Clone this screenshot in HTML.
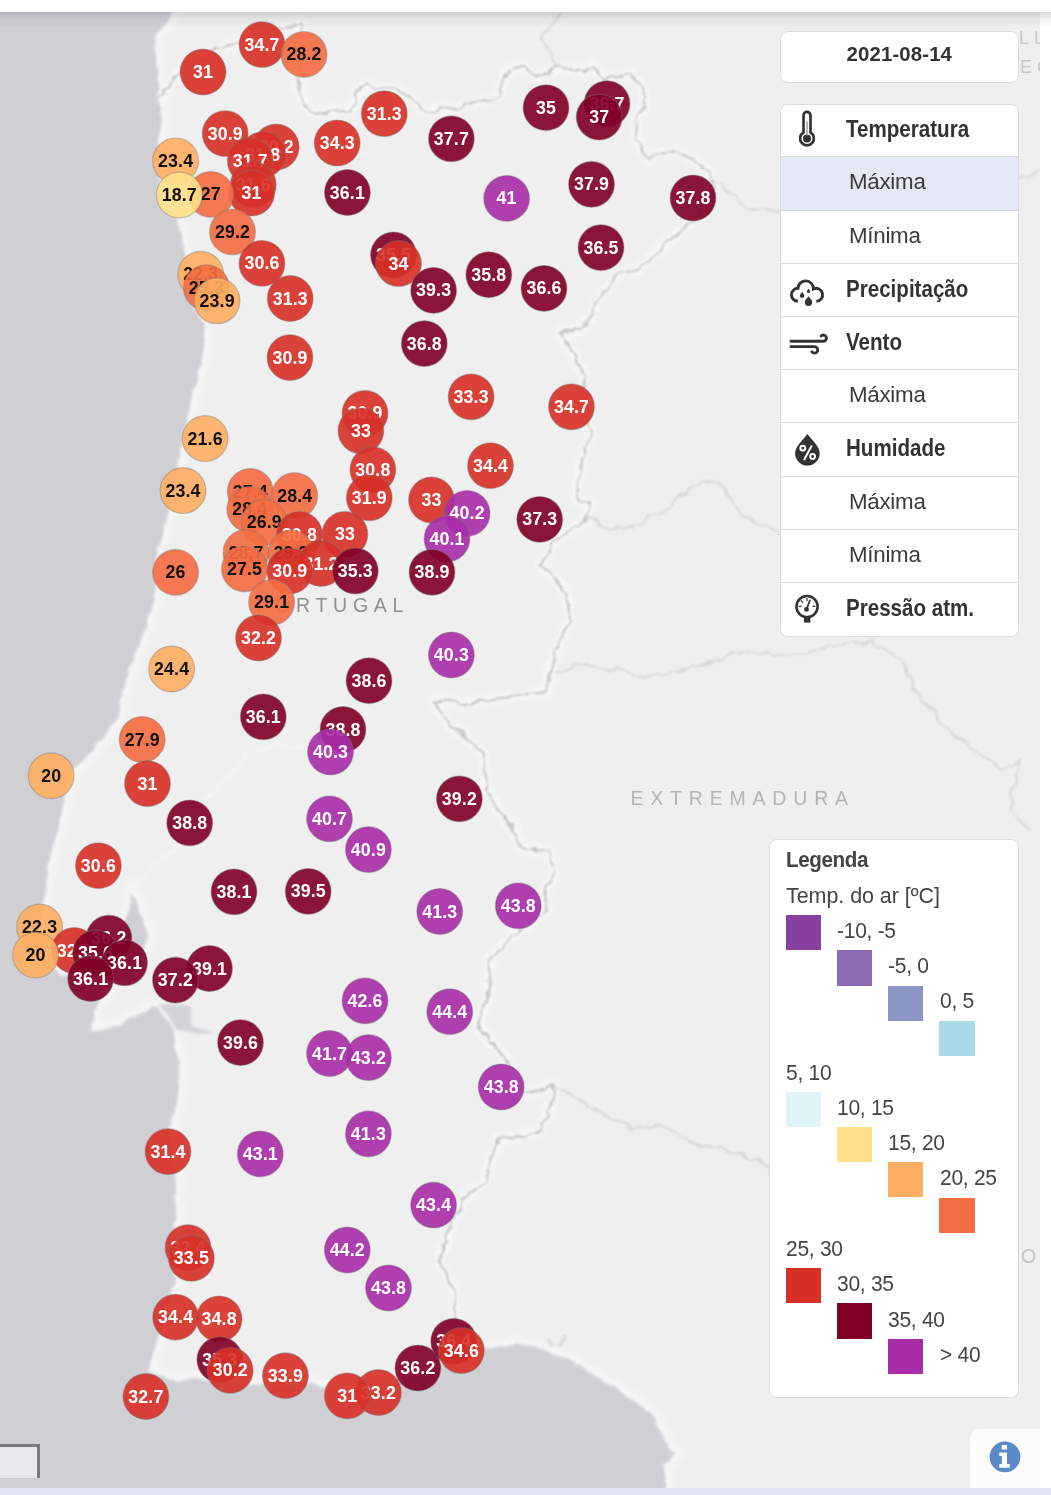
<!DOCTYPE html>
<html lang="pt"><head><meta charset="utf-8"><title>Mapa</title>
<style>
html,body{margin:0;padding:0;background:#fff;}
body{width:1051px;height:1495px;position:relative;overflow:hidden;font-family:"Liberation Sans",sans-serif;color:#333;}
#map{position:absolute;left:0;top:12px;width:1040px;height:1476px;background:#efefef;overflow:hidden;}
#map svg{position:absolute;left:0;top:-12px;}
#map svg text{font-family:"Liberation Sans",sans-serif;}
.pts text{font-weight:bold;font-size:17.8px;text-anchor:middle;letter-spacing:.12px}
#topshadow{position:absolute;left:0;top:12px;width:1051px;height:16px;background:linear-gradient(rgba(40,40,50,.17),rgba(40,40,50,.06) 45%,rgba(40,40,50,0));}
#bottombar{position:absolute;left:0;top:1488.4px;width:1051px;height:7px;background:#e2e6f4;}
.box{position:absolute;background:#fff;border:1px solid #dcdcdc;border-radius:8px;box-sizing:border-box;}
#date{left:780px;top:30.5px;width:238.7px;height:52px;font-weight:bold;font-size:20.4px;letter-spacing:.12px;text-align:center;line-height:45.6px;}
#menu{left:780px;top:103.5px;width:238.7px;height:533px;overflow:hidden;}
.row{position:absolute;left:0;width:100%;height:53.2px;border-top:1.3px solid #dcdcdc;box-sizing:border-box;line-height:50px;white-space:nowrap;}
.row b{position:absolute;left:65.2px;font-size:23.6px;transform-origin:0 50%;transform:scaleX(.872)}
.row span{position:absolute;left:68px;font-size:22.3px;letter-spacing:-.25px;color:#3a3a3a}
.row svg{position:absolute;left:0;top:0;}
.sel{background:#e5e8f5;}
#legend{left:768.5px;top:839px;width:250px;height:559px;}
#legend div{position:absolute;white-space:nowrap;font-size:22.6px;color:#444;line-height:24px;letter-spacing:-.3px;transform-origin:0 50%;transform:scaleX(.93)}
#legend i{position:absolute;width:35.5px;height:35.3px;}
#scale{position:absolute;left:-3px;top:1444px;width:37px;height:34px;border:3px solid #7b7b7b;background:#e8e8ea;box-sizing:content-box;border-bottom:none;height:31px}
#info{position:absolute;left:969.5px;top:1428.5px;width:70.5px;height:59.5px;background:#fcfcfc;border-top-left-radius:9px;}
</style></head><body>
<div id="map">
<svg width="1040" height="1495" viewBox="0 0 1040 1495">
<defs><filter id="b1" x="-5%" y="-5%" width="110%" height="110%"><feGaussianBlur stdDeviation="1.6"/></filter>
<filter id="b5" x="-5%" y="-5%" width="110%" height="110%"><feGaussianBlur stdDeviation="3.5"/></filter>
<filter id="bh" x="-5%" y="-5%" width="110%" height="110%"><feTurbulence type="fractalNoise" baseFrequency=".07" numOctaves="3" seed="3" result="n"/><feDisplacementMap in="SourceGraphic" in2="n" scale="10" xChannelSelector="R" yChannelSelector="G"/><feGaussianBlur stdDeviation="2.5"/></filter>
<filter id="bsea" x="-5%" y="-5%" width="110%" height="110%"><feTurbulence type="fractalNoise" baseFrequency=".09" numOctaves="3" seed="7" result="n"/><feDisplacementMap in="SourceGraphic" in2="n" scale="6" xChannelSelector="R" yChannelSelector="G"/><feGaussianBlur stdDeviation="1.7"/></filter>
<filter id="b07" x="-5%" y="-5%" width="110%" height="110%"><feTurbulence type="fractalNoise" baseFrequency=".07" numOctaves="3" seed="3" result="n"/><feDisplacementMap in="SourceGraphic" in2="n" scale="10" xChannelSelector="R" yChannelSelector="G"/><feGaussianBlur stdDeviation=".8"/></filter></defs>
<rect width="1040" height="1495" fill="#efefef"/>
<path d="M-30,-30 L172,-30 L170.8,12 L167.8,23 L163,28 L158.6,30.5 L154.8,38 L156,50 L156.4,61 L157.9,84 L159.4,95 L160.2,114 L159.4,137 L158.5,160 L160,185 L166,205 L177,220 L179.4,230.5 L183.2,246 L184.7,253.5 L186.5,275 L190,300 L198,315 L204.6,325 L205.3,337 L203,352.5 L200,368 L196.2,383 L192.4,398 L188.6,413.5 L186.8,420 L183.7,435 L180.7,450.5 L178.4,463 L173,490 L167,519 L162.4,534.5 L157,550 L156,575 L154.7,600 L148.6,618.3 L143.3,633.5 L140.5,640 L134.4,655.3 L129,670.5 L124.5,686 L120.7,701 L117.6,716 L111.5,725.5 L100.8,739 L88.6,754.4 L78,765 L73.4,770 L67,785 L64.2,800 L62,815.4 L58.1,830.7 L52.8,846 L49,861 L47.3,865.3 L46.5,880.5 L45,896 L42.7,903.5 L40,925 L42,945 L50,965 L62,976 L80,972 L105,962 L122,950 L124,930 L127,915 L131,900 L132.7,893.5 L135.8,900.3 L138,911 L141.9,918.6 L146.4,926.3 L148.7,935.4 L146.4,941.5 L143,952 L140,965 L128,978 L113,981 L105,992 L97.6,1002.5 L94,1016 L90.5,1031.5 L103.7,1030 L115.3,1025.5 L122,1024.5 L130.5,1019 L142.7,1012.9 L151.9,1006.8 L157,1007.5 L165,1017 L173.2,1031.2 L173.2,1034.2 L176.3,1048 L178.6,1063.2 L179.3,1081.5 L177.8,1096.8 L174.7,1112 L170.9,1124.2 L169,1150 L176.3,1180.7 L174.7,1196 L176.3,1211.2 L176.3,1215.3 L174.7,1226 L173,1250 L174.7,1283.9 L171.7,1291.5 L165,1320 L156.4,1344.9 L151.1,1360.2 L148,1372.4 L164,1377 L176.3,1381.5 L191.5,1379.2 L206.8,1378.5 L230,1384 L254.8,1384.1 L280,1386 L309.3,1382.9 L316.7,1385.4 L350,1392 L385,1386 L400,1381 L420,1373 L440,1366 L455,1358 L470,1351 L486,1348.8 L515.7,1344.3 L538.5,1346.5 L552.2,1353.4 L572.8,1362.5 L595.6,1376.2 L618.4,1390 L641.3,1405.9 L655,1419.6 L664.1,1437.9 L671,1451.6 L675.5,1453.9 L664.1,1465.3 L668.7,1530 L-30,1530Z" fill="none" stroke="#f7f7f7" stroke-width="12" filter="url(#b5)"/>
<path d="M132,893 L149.5,868 L176.7,848.4 L190,825 L206.4,799 L233.6,771.7 L251,749.5 L278,745.8 L307.8,748.2 L345,742" fill="none" stroke="#f4f4f4" stroke-width="2" filter="url(#b07)"/>
<g fill="none" stroke="#f8f8f8" stroke-width="9" stroke-linejoin="round" filter="url(#bh)"><path d="M159,97 L177,77 L214,50 L234,43.5 L262,36 L294.5,25 L303,23.4 L301,50 L298,77 L301,93.7 L314.5,113.7 L350,110.4 L363.4,85.3 L403.5,92 L427,112 L460.4,107 L497,97 L507,70 L524,67 L537,77 L557.4,67 L584,72 L591,67 L607,80 L619,78 L632.4,73.3 L640,81.8 L644.7,99 L638,118 L636.2,133.2 L641,150.3 L649.5,158 L657,152.2 L676,152.2 L691.3,158 L706.6,171.3 L714.2,178.9 L712,200 L700,214 L689.4,222.6 L680,232 L662.8,245.5 L647.6,262.6 L634.4,270.7 L616,273.7 L605.4,290.4 L594.8,302.6 L593.3,313.3 L582.6,328.5 L559.8,331.5 L561.3,337.6 L576.5,357.4 L578,366.5 L585.7,375.7 L584.1,383.3 L588,405 L591,435 L580.8,461.7 L577.5,500 L591,505 L584,520 L550.7,543.5 L542.4,567 L567.5,593.7 L569,620.4 L554,657 L545.7,690.7 L477,702.4 L433.6,700.7 L447,720.8 L483.8,754 L483.8,777.7 L497.2,807.8 L517.3,834.6 L520.6,848 L547.4,851.3 L554,868 L544,894.8 L547.4,911.5 L510.6,935 L490.5,958.4 L487,1000 L477,1025 L500.6,1052 L524,1092 L554,1085.3 L550.7,1105.4 L540.7,1128.8 L497.2,1142.2 L483.8,1182.4 L460.4,1202.4 L447,1235.9 L440.3,1259.3 L453.7,1289.4 L455.4,1319.5 L456,1345"/></g>
<g fill="none" stroke="#d6d6d6" stroke-width="2" stroke-linejoin="round" filter="url(#b07)">
<path d="M560.8,13.4 L548,30 L542.4,40 L554,60 L557.4,67"/>
<path d="M554,1085.3 L584,1102 L631,1128.8 L661,1125.5 L700,1145.5 L760,1160 L790,1190"/>
<path d="M588,515 L605,530 L634,527 L650,518 L671,505 L690,490 L706,480 L718,484 L726,492 L741,515 L776,530 L800,545"/>
<path d="M554,674 L584,664 L651,677 L700,667 L740,650 L790,655 L870,640 L900,660 L920,700 L960,740 L1000,770 L1020,760 L1010,810 L1030,830"/>
<path d="M714.2,178.9 L733,198 L752,209.3 L775,211 L790,210 L1000,185 L1020,177 L1040,170"/>
</g>
<g fill="none" stroke="#c2c2c2" stroke-width="2" stroke-linejoin="round" filter="url(#b07)"><path d="M159,97 L177,77 L214,50 L234,43.5 L262,36 L294.5,25 L303,23.4 L301,50 L298,77 L301,93.7 L314.5,113.7 L350,110.4 L363.4,85.3 L403.5,92 L427,112 L460.4,107 L497,97 L507,70 L524,67 L537,77 L557.4,67 L584,72 L591,67 L607,80 L619,78 L632.4,73.3 L640,81.8 L644.7,99 L638,118 L636.2,133.2 L641,150.3 L649.5,158 L657,152.2 L676,152.2 L691.3,158 L706.6,171.3 L714.2,178.9 L712,200 L700,214 L689.4,222.6 L680,232 L662.8,245.5 L647.6,262.6 L634.4,270.7 L616,273.7 L605.4,290.4 L594.8,302.6 L593.3,313.3 L582.6,328.5 L559.8,331.5 L561.3,337.6 L576.5,357.4 L578,366.5 L585.7,375.7 L584.1,383.3 L588,405 L591,435 L580.8,461.7 L577.5,500 L591,505 L584,520 L550.7,543.5 L542.4,567 L567.5,593.7 L569,620.4 L554,657 L545.7,690.7 L477,702.4 L433.6,700.7 L447,720.8 L483.8,754 L483.8,777.7 L497.2,807.8 L517.3,834.6 L520.6,848 L547.4,851.3 L554,868 L544,894.8 L547.4,911.5 L510.6,935 L490.5,958.4 L487,1000 L477,1025 L500.6,1052 L524,1092 L554,1085.3 L550.7,1105.4 L540.7,1128.8 L497.2,1142.2 L483.8,1182.4 L460.4,1202.4 L447,1235.9 L440.3,1259.3 L453.7,1289.4 L455.4,1319.5 L456,1345"/></g>
<path d="M-30,-30 L172,-30 L170.8,12 L167.8,23 L163,28 L158.6,30.5 L154.8,38 L156,50 L156.4,61 L157.9,84 L159.4,95 L160.2,114 L159.4,137 L158.5,160 L160,185 L166,205 L177,220 L179.4,230.5 L183.2,246 L184.7,253.5 L186.5,275 L190,300 L198,315 L204.6,325 L205.3,337 L203,352.5 L200,368 L196.2,383 L192.4,398 L188.6,413.5 L186.8,420 L183.7,435 L180.7,450.5 L178.4,463 L173,490 L167,519 L162.4,534.5 L157,550 L156,575 L154.7,600 L148.6,618.3 L143.3,633.5 L140.5,640 L134.4,655.3 L129,670.5 L124.5,686 L120.7,701 L117.6,716 L111.5,725.5 L100.8,739 L88.6,754.4 L78,765 L73.4,770 L67,785 L64.2,800 L62,815.4 L58.1,830.7 L52.8,846 L49,861 L47.3,865.3 L46.5,880.5 L45,896 L42.7,903.5 L40,925 L42,945 L50,965 L62,976 L80,972 L105,962 L122,950 L124,930 L127,915 L131,900 L132.7,893.5 L135.8,900.3 L138,911 L141.9,918.6 L146.4,926.3 L148.7,935.4 L146.4,941.5 L143,952 L140,965 L128,978 L113,981 L105,992 L97.6,1002.5 L94,1016 L90.5,1031.5 L103.7,1030 L115.3,1025.5 L122,1024.5 L130.5,1019 L142.7,1012.9 L151.9,1006.8 L157,1007.5 L165,1017 L173.2,1031.2 L173.2,1034.2 L176.3,1048 L178.6,1063.2 L179.3,1081.5 L177.8,1096.8 L174.7,1112 L170.9,1124.2 L169,1150 L176.3,1180.7 L174.7,1196 L176.3,1211.2 L176.3,1215.3 L174.7,1226 L173,1250 L174.7,1283.9 L171.7,1291.5 L165,1320 L156.4,1344.9 L151.1,1360.2 L148,1372.4 L164,1377 L176.3,1381.5 L191.5,1379.2 L206.8,1378.5 L230,1384 L254.8,1384.1 L280,1386 L309.3,1382.9 L316.7,1385.4 L350,1392 L385,1386 L400,1381 L420,1373 L440,1366 L455,1358 L470,1351 L486,1348.8 L515.7,1344.3 L538.5,1346.5 L552.2,1353.4 L572.8,1362.5 L595.6,1376.2 L618.4,1390 L641.3,1405.9 L655,1419.6 L664.1,1437.9 L671,1451.6 L675.5,1453.9 L664.1,1465.3 L668.7,1530 L-30,1530Z" fill="#cfcfd4" filter="url(#bsea)"/>
<path d="M158.5,1004.5 L185.4,1004.8 L190.8,1007 L191,1025 L199,1028.5 L216,1033.5 L199,1033.5 L185,1031 L177,1030 L168,1016 L160.5,1008Z" fill="#d3d4d9" filter="url(#b1)"/>
<path d="M548,1340 l5,6 M566,1335 l-7,12" stroke="#d4d5da" stroke-width="3" fill="none" filter="url(#b1)"/>
<text x="256.5" y="611.5" font-size="19.5" letter-spacing="5.7" fill="#909090">PORTUGAL</text>
<text x="630.5" y="804.5" font-size="19.5" letter-spacing="6.8" fill="#b4b4b4">EXTREMADURA</text>
<text x="1019" y="43.5" font-size="18" letter-spacing="5" fill="#c8c8c8">LL</text>
<text x="1020" y="72.5" font-size="18" letter-spacing="5" fill="#c8c8c8">EC</text>
<text x="1021" y="1263" font-size="19.5" letter-spacing="6" fill="#c4c4c4">OA</text>
<g class="pts">
<circle cx="262" cy="44.6" r="22.9" fill="#d73027" fill-opacity=".915" stroke="#777" stroke-opacity=".4" stroke-width="1.2"/><text x="262" y="50.65" fill="#fff">34.7</text>
<circle cx="304" cy="54.4" r="22.9" fill="#f46d43" fill-opacity=".915" stroke="#777" stroke-opacity=".4" stroke-width="1.2"/><text x="304" y="60.449999999999996" fill="#111">28.2</text>
<circle cx="203" cy="72" r="22.9" fill="#d73027" fill-opacity=".915" stroke="#777" stroke-opacity=".4" stroke-width="1.2"/><text x="203" y="78.05" fill="#fff">31</text>
<circle cx="384.3" cy="113.7" r="22.9" fill="#d73027" fill-opacity=".915" stroke="#777" stroke-opacity=".4" stroke-width="1.2"/><text x="384.3" y="119.75" fill="#fff">31.3</text>
<circle cx="225.2" cy="133.6" r="22.9" fill="#d73027" fill-opacity=".915" stroke="#777" stroke-opacity=".4" stroke-width="1.2"/><text x="225.2" y="139.65" fill="#fff">30.9</text>
<circle cx="337.2" cy="143" r="22.9" fill="#d73027" fill-opacity=".915" stroke="#777" stroke-opacity=".4" stroke-width="1.2"/><text x="337.2" y="149.05" fill="#fff">34.3</text>
<circle cx="276.2" cy="147" r="22.9" fill="#d73027" fill-opacity=".915" stroke="#777" stroke-opacity=".4" stroke-width="1.2"/><text x="276.2" y="153.05" fill="#fff">30.2</text>
<circle cx="262.8" cy="154.6" r="22.9" fill="#d73027" fill-opacity=".915" stroke="#777" stroke-opacity=".4" stroke-width="1.2"/><text x="262.8" y="160.65" fill="#fff">31.8</text>
<circle cx="250.3" cy="160.9" r="22.9" fill="#d73027" fill-opacity=".915" stroke="#777" stroke-opacity=".4" stroke-width="1.2"/><text x="250.3" y="166.95000000000002" fill="#fff">31.7</text>
<circle cx="253.3" cy="184.7" r="22.9" fill="#d73027" fill-opacity=".915" stroke="#777" stroke-opacity=".4" stroke-width="1.2"/><text x="253.3" y="190.75" fill="#fff">31.6</text>
<circle cx="251.6" cy="193" r="22.9" fill="#d73027" fill-opacity=".915" stroke="#777" stroke-opacity=".4" stroke-width="1.2"/><text x="251.6" y="199.05" fill="#fff">31</text>
<circle cx="175.6" cy="160.9" r="22.9" fill="#fdae61" fill-opacity=".915" stroke="#777" stroke-opacity=".4" stroke-width="1.2"/><text x="175.6" y="166.95000000000002" fill="#111">23.4</text>
<circle cx="210.8" cy="194.4" r="22.9" fill="#f46d43" fill-opacity=".915" stroke="#777" stroke-opacity=".4" stroke-width="1.2"/><text x="210.8" y="200.45000000000002" fill="#111">27</text>
<circle cx="179.3" cy="195" r="22.9" fill="#fee08b" fill-opacity=".915" stroke="#777" stroke-opacity=".4" stroke-width="1.2"/><text x="179.3" y="201.05" fill="#111">18.7</text>
<circle cx="232.5" cy="231.9" r="22.9" fill="#f46d43" fill-opacity=".915" stroke="#777" stroke-opacity=".4" stroke-width="1.2"/><text x="232.5" y="237.95000000000002" fill="#111">29.2</text>
<circle cx="262" cy="263.4" r="22.9" fill="#d73027" fill-opacity=".915" stroke="#777" stroke-opacity=".4" stroke-width="1.2"/><text x="262" y="269.45" fill="#fff">30.6</text>
<circle cx="290.2" cy="298.5" r="22.9" fill="#d73027" fill-opacity=".915" stroke="#777" stroke-opacity=".4" stroke-width="1.2"/><text x="290.2" y="304.55" fill="#fff">31.3</text>
<circle cx="200.7" cy="274.3" r="22.9" fill="#fdae61" fill-opacity=".915" stroke="#777" stroke-opacity=".4" stroke-width="1.2"/><text x="200.7" y="280.35" fill="#111">22.3</text>
<circle cx="206.4" cy="287.7" r="22.9" fill="#f46d43" fill-opacity=".915" stroke="#777" stroke-opacity=".4" stroke-width="1.2"/><text x="206.4" y="293.75" fill="#111">25.3</text>
<circle cx="217.1" cy="300.8" r="22.9" fill="#fdae61" fill-opacity=".915" stroke="#777" stroke-opacity=".4" stroke-width="1.2"/><text x="217.1" y="306.85" fill="#111">23.9</text>
<circle cx="290" cy="357.6" r="22.9" fill="#d73027" fill-opacity=".915" stroke="#777" stroke-opacity=".4" stroke-width="1.2"/><text x="290" y="363.65000000000003" fill="#fff">30.9</text>
<circle cx="347.4" cy="192.5" r="22.9" fill="#800026" fill-opacity=".915" stroke="#777" stroke-opacity=".4" stroke-width="1.2"/><text x="347.4" y="198.55" fill="#fff">36.1</text>
<circle cx="451.4" cy="138.8" r="22.9" fill="#800026" fill-opacity=".915" stroke="#777" stroke-opacity=".4" stroke-width="1.2"/><text x="451.4" y="144.85000000000002" fill="#fff">37.7</text>
<circle cx="546" cy="107.7" r="22.9" fill="#800026" fill-opacity=".915" stroke="#777" stroke-opacity=".4" stroke-width="1.2"/><text x="546" y="113.75" fill="#fff">35</text>
<circle cx="607" cy="103.7" r="22.9" fill="#800026" fill-opacity=".915" stroke="#777" stroke-opacity=".4" stroke-width="1.2"/><text x="607" y="109.75" fill="#fff">36.7</text>
<circle cx="599.2" cy="117.1" r="22.9" fill="#800026" fill-opacity=".915" stroke="#777" stroke-opacity=".4" stroke-width="1.2"/><text x="599.2" y="123.14999999999999" fill="#fff">37</text>
<circle cx="506.6" cy="198.4" r="22.9" fill="#a92da8" fill-opacity=".915" stroke="#777" stroke-opacity=".4" stroke-width="1.2"/><text x="506.6" y="204.45000000000002" fill="#fff">41</text>
<circle cx="591.5" cy="184.3" r="22.9" fill="#800026" fill-opacity=".915" stroke="#777" stroke-opacity=".4" stroke-width="1.2"/><text x="591.5" y="190.35000000000002" fill="#fff">37.9</text>
<circle cx="693" cy="198" r="22.9" fill="#800026" fill-opacity=".915" stroke="#777" stroke-opacity=".4" stroke-width="1.2"/><text x="693" y="204.05" fill="#fff">37.8</text>
<circle cx="601" cy="247.6" r="22.9" fill="#800026" fill-opacity=".915" stroke="#777" stroke-opacity=".4" stroke-width="1.2"/><text x="601" y="253.65" fill="#fff">36.5</text>
<circle cx="393.5" cy="255" r="22.9" fill="#800026" fill-opacity=".915" stroke="#777" stroke-opacity=".4" stroke-width="1.2"/><text x="393.5" y="261.05" fill="#fff">35.5</text>
<circle cx="398.5" cy="263.6" r="22.9" fill="#d73027" fill-opacity=".915" stroke="#777" stroke-opacity=".4" stroke-width="1.2"/><text x="398.5" y="269.65000000000003" fill="#fff">34</text>
<circle cx="433.6" cy="290.4" r="22.9" fill="#800026" fill-opacity=".915" stroke="#777" stroke-opacity=".4" stroke-width="1.2"/><text x="433.6" y="296.45" fill="#fff">39.3</text>
<circle cx="488.8" cy="274.7" r="22.9" fill="#800026" fill-opacity=".915" stroke="#777" stroke-opacity=".4" stroke-width="1.2"/><text x="488.8" y="280.75" fill="#fff">35.8</text>
<circle cx="544" cy="288.4" r="22.9" fill="#800026" fill-opacity=".915" stroke="#777" stroke-opacity=".4" stroke-width="1.2"/><text x="544" y="294.45" fill="#fff">36.6</text>
<circle cx="424.3" cy="343.6" r="22.9" fill="#800026" fill-opacity=".915" stroke="#777" stroke-opacity=".4" stroke-width="1.2"/><text x="424.3" y="349.65000000000003" fill="#fff">36.8</text>
<circle cx="471.1" cy="396.8" r="22.9" fill="#d73027" fill-opacity=".915" stroke="#777" stroke-opacity=".4" stroke-width="1.2"/><text x="471.1" y="402.85" fill="#fff">33.3</text>
<circle cx="571.5" cy="406.8" r="22.9" fill="#d73027" fill-opacity=".915" stroke="#777" stroke-opacity=".4" stroke-width="1.2"/><text x="571.5" y="412.85" fill="#fff">34.7</text>
<circle cx="365" cy="413.3" r="22.9" fill="#d73027" fill-opacity=".915" stroke="#777" stroke-opacity=".4" stroke-width="1.2"/><text x="365" y="419.35" fill="#fff">30.9</text>
<circle cx="360.9" cy="430.8" r="22.9" fill="#d73027" fill-opacity=".915" stroke="#777" stroke-opacity=".4" stroke-width="1.2"/><text x="360.9" y="436.85" fill="#fff">33</text>
<circle cx="372.9" cy="469.8" r="22.9" fill="#d73027" fill-opacity=".915" stroke="#777" stroke-opacity=".4" stroke-width="1.2"/><text x="372.9" y="475.85" fill="#fff">30.8</text>
<circle cx="490.5" cy="465.7" r="22.9" fill="#d73027" fill-opacity=".915" stroke="#777" stroke-opacity=".4" stroke-width="1.2"/><text x="490.5" y="471.75" fill="#fff">34.4</text>
<circle cx="369.3" cy="497.8" r="22.9" fill="#d73027" fill-opacity=".915" stroke="#777" stroke-opacity=".4" stroke-width="1.2"/><text x="369.3" y="503.85" fill="#fff">31.9</text>
<circle cx="431.5" cy="500" r="22.9" fill="#d73027" fill-opacity=".915" stroke="#777" stroke-opacity=".4" stroke-width="1.2"/><text x="431.5" y="506.05" fill="#fff">33</text>
<circle cx="205.1" cy="438.6" r="22.9" fill="#fdae61" fill-opacity=".915" stroke="#777" stroke-opacity=".4" stroke-width="1.2"/><text x="205.1" y="444.65000000000003" fill="#111">21.6</text>
<circle cx="183" cy="490.5" r="22.9" fill="#fdae61" fill-opacity=".915" stroke="#777" stroke-opacity=".4" stroke-width="1.2"/><text x="183" y="496.55" fill="#111">23.4</text>
<circle cx="250.3" cy="491.5" r="22.9" fill="#f46d43" fill-opacity=".915" stroke="#777" stroke-opacity=".4" stroke-width="1.2"/><text x="250.3" y="497.55" fill="#111">27.4</text>
<circle cx="294.7" cy="495.6" r="22.9" fill="#f46d43" fill-opacity=".915" stroke="#777" stroke-opacity=".4" stroke-width="1.2"/><text x="294.7" y="501.65000000000003" fill="#111">28.4</text>
<circle cx="249.8" cy="509.3" r="22.9" fill="#f46d43" fill-opacity=".915" stroke="#777" stroke-opacity=".4" stroke-width="1.2"/><text x="249.8" y="515.35" fill="#111">28.4</text>
<circle cx="264.3" cy="522.3" r="22.9" fill="#f46d43" fill-opacity=".915" stroke="#777" stroke-opacity=".4" stroke-width="1.2"/><text x="264.3" y="528.3499999999999" fill="#111">26.9</text>
<circle cx="344.9" cy="534.3" r="22.9" fill="#d73027" fill-opacity=".915" stroke="#777" stroke-opacity=".4" stroke-width="1.2"/><text x="344.9" y="540.3499999999999" fill="#fff">33</text>
<circle cx="299.4" cy="534.5" r="22.9" fill="#d73027" fill-opacity=".915" stroke="#777" stroke-opacity=".4" stroke-width="1.2"/><text x="299.4" y="540.55" fill="#fff">30.8</text>
<circle cx="291" cy="553" r="22.9" fill="#f46d43" fill-opacity=".915" stroke="#777" stroke-opacity=".4" stroke-width="1.2"/><text x="291" y="559.05" fill="#111">29.3</text>
<circle cx="321" cy="563.5" r="22.9" fill="#d73027" fill-opacity=".915" stroke="#777" stroke-opacity=".4" stroke-width="1.2"/><text x="321" y="569.55" fill="#fff">31.2</text>
<circle cx="289.7" cy="571" r="22.9" fill="#d73027" fill-opacity=".915" stroke="#777" stroke-opacity=".4" stroke-width="1.2"/><text x="289.7" y="577.05" fill="#fff">30.9</text>
<circle cx="246" cy="552.5" r="22.9" fill="#f46d43" fill-opacity=".915" stroke="#777" stroke-opacity=".4" stroke-width="1.2"/><text x="246" y="558.55" fill="#111">28.7</text>
<circle cx="244.5" cy="568.9" r="22.9" fill="#f46d43" fill-opacity=".915" stroke="#777" stroke-opacity=".4" stroke-width="1.2"/><text x="244.5" y="574.9499999999999" fill="#111">27.5</text>
<circle cx="355.3" cy="571" r="22.9" fill="#800026" fill-opacity=".915" stroke="#777" stroke-opacity=".4" stroke-width="1.2"/><text x="355.3" y="577.05" fill="#fff">35.3</text>
<circle cx="271.6" cy="602.3" r="22.9" fill="#f46d43" fill-opacity=".915" stroke="#777" stroke-opacity=".4" stroke-width="1.2"/><text x="271.6" y="608.3499999999999" fill="#111">29.1</text>
<circle cx="258.5" cy="638" r="22.9" fill="#d73027" fill-opacity=".915" stroke="#777" stroke-opacity=".4" stroke-width="1.2"/><text x="258.5" y="644.05" fill="#fff">32.2</text>
<circle cx="175.6" cy="572.3" r="22.9" fill="#f46d43" fill-opacity=".915" stroke="#777" stroke-opacity=".4" stroke-width="1.2"/><text x="175.6" y="578.3499999999999" fill="#111">26</text>
<circle cx="467.1" cy="513.4" r="22.9" fill="#a92da8" fill-opacity=".915" stroke="#777" stroke-opacity=".4" stroke-width="1.2"/><text x="467.1" y="519.4499999999999" fill="#fff">40.2</text>
<circle cx="447" cy="538.8" r="22.9" fill="#a92da8" fill-opacity=".915" stroke="#777" stroke-opacity=".4" stroke-width="1.2"/><text x="447" y="544.8499999999999" fill="#fff">40.1</text>
<circle cx="539.7" cy="519.4" r="22.9" fill="#800026" fill-opacity=".915" stroke="#777" stroke-opacity=".4" stroke-width="1.2"/><text x="539.7" y="525.4499999999999" fill="#fff">37.3</text>
<circle cx="432" cy="572.3" r="22.9" fill="#800026" fill-opacity=".915" stroke="#777" stroke-opacity=".4" stroke-width="1.2"/><text x="432" y="578.3499999999999" fill="#fff">38.9</text>
<circle cx="451.4" cy="655" r="22.9" fill="#a92da8" fill-opacity=".915" stroke="#777" stroke-opacity=".4" stroke-width="1.2"/><text x="451.4" y="661.05" fill="#fff">40.3</text>
<circle cx="369" cy="680.7" r="22.9" fill="#800026" fill-opacity=".915" stroke="#777" stroke-opacity=".4" stroke-width="1.2"/><text x="369" y="686.75" fill="#fff">38.6</text>
<circle cx="171.6" cy="669" r="22.9" fill="#fdae61" fill-opacity=".915" stroke="#777" stroke-opacity=".4" stroke-width="1.2"/><text x="171.6" y="675.05" fill="#111">24.4</text>
<circle cx="263.3" cy="716.8" r="22.9" fill="#800026" fill-opacity=".915" stroke="#777" stroke-opacity=".4" stroke-width="1.2"/><text x="263.3" y="722.8499999999999" fill="#fff">36.1</text>
<circle cx="343" cy="729.5" r="22.9" fill="#800026" fill-opacity=".915" stroke="#777" stroke-opacity=".4" stroke-width="1.2"/><text x="343" y="735.55" fill="#fff">38.8</text>
<circle cx="330.5" cy="752" r="22.9" fill="#a92da8" fill-opacity=".915" stroke="#777" stroke-opacity=".4" stroke-width="1.2"/><text x="330.5" y="758.05" fill="#fff">40.3</text>
<circle cx="142.2" cy="739.5" r="22.9" fill="#f46d43" fill-opacity=".915" stroke="#777" stroke-opacity=".4" stroke-width="1.2"/><text x="142.2" y="745.55" fill="#111">27.9</text>
<circle cx="147.5" cy="783.7" r="22.9" fill="#d73027" fill-opacity=".915" stroke="#777" stroke-opacity=".4" stroke-width="1.2"/><text x="147.5" y="789.75" fill="#fff">31</text>
<circle cx="51.2" cy="775.7" r="22.9" fill="#fdae61" fill-opacity=".915" stroke="#777" stroke-opacity=".4" stroke-width="1.2"/><text x="51.2" y="781.75" fill="#111">20</text>
<circle cx="189.7" cy="822.9" r="22.9" fill="#800026" fill-opacity=".915" stroke="#777" stroke-opacity=".4" stroke-width="1.2"/><text x="189.7" y="828.9499999999999" fill="#fff">38.8</text>
<circle cx="329.5" cy="818.8" r="22.9" fill="#a92da8" fill-opacity=".915" stroke="#777" stroke-opacity=".4" stroke-width="1.2"/><text x="329.5" y="824.8499999999999" fill="#fff">40.7</text>
<circle cx="368.4" cy="849.6" r="22.9" fill="#a92da8" fill-opacity=".915" stroke="#777" stroke-opacity=".4" stroke-width="1.2"/><text x="368.4" y="855.65" fill="#fff">40.9</text>
<circle cx="459.4" cy="798.8" r="22.9" fill="#800026" fill-opacity=".915" stroke="#777" stroke-opacity=".4" stroke-width="1.2"/><text x="459.4" y="804.8499999999999" fill="#fff">39.2</text>
<circle cx="98.4" cy="865.7" r="22.9" fill="#d73027" fill-opacity=".915" stroke="#777" stroke-opacity=".4" stroke-width="1.2"/><text x="98.4" y="871.75" fill="#fff">30.6</text>
<circle cx="234" cy="891.8" r="22.9" fill="#800026" fill-opacity=".915" stroke="#777" stroke-opacity=".4" stroke-width="1.2"/><text x="234" y="897.8499999999999" fill="#fff">38.1</text>
<circle cx="308.2" cy="891.4" r="22.9" fill="#800026" fill-opacity=".915" stroke="#777" stroke-opacity=".4" stroke-width="1.2"/><text x="308.2" y="897.4499999999999" fill="#fff">39.5</text>
<circle cx="439.7" cy="911.5" r="22.9" fill="#a92da8" fill-opacity=".915" stroke="#777" stroke-opacity=".4" stroke-width="1.2"/><text x="439.7" y="917.55" fill="#fff">41.3</text>
<circle cx="518.3" cy="905.8" r="22.9" fill="#a92da8" fill-opacity=".915" stroke="#777" stroke-opacity=".4" stroke-width="1.2"/><text x="518.3" y="911.8499999999999" fill="#fff">43.8</text>
<circle cx="39.6" cy="927" r="22.9" fill="#fdae61" fill-opacity=".915" stroke="#777" stroke-opacity=".4" stroke-width="1.2"/><text x="39.6" y="933.05" fill="#111">22.3</text>
<circle cx="74.2" cy="950.5" r="22.9" fill="#d73027" fill-opacity=".915" stroke="#777" stroke-opacity=".4" stroke-width="1.2"/><text x="74.2" y="956.55" fill="#fff">32.3</text>
<circle cx="35.6" cy="955" r="22.9" fill="#fdae61" fill-opacity=".915" stroke="#777" stroke-opacity=".4" stroke-width="1.2"/><text x="35.6" y="961.05" fill="#111">20</text>
<circle cx="108.9" cy="938.1" r="22.9" fill="#800026" fill-opacity=".915" stroke="#777" stroke-opacity=".4" stroke-width="1.2"/><text x="108.9" y="944.15" fill="#fff">36.2</text>
<circle cx="95.5" cy="953" r="22.9" fill="#800026" fill-opacity=".915" stroke="#777" stroke-opacity=".4" stroke-width="1.2"/><text x="95.5" y="959.05" fill="#fff">35.6</text>
<circle cx="124.6" cy="962.8" r="22.9" fill="#800026" fill-opacity=".915" stroke="#777" stroke-opacity=".4" stroke-width="1.2"/><text x="124.6" y="968.8499999999999" fill="#fff">36.1</text>
<circle cx="90.6" cy="978.5" r="22.9" fill="#800026" fill-opacity=".915" stroke="#777" stroke-opacity=".4" stroke-width="1.2"/><text x="90.6" y="984.55" fill="#fff">36.1</text>
<circle cx="209.5" cy="968.5" r="22.9" fill="#800026" fill-opacity=".915" stroke="#777" stroke-opacity=".4" stroke-width="1.2"/><text x="209.5" y="974.55" fill="#fff">39.1</text>
<circle cx="175.4" cy="980.1" r="22.9" fill="#800026" fill-opacity=".915" stroke="#777" stroke-opacity=".4" stroke-width="1.2"/><text x="175.4" y="986.15" fill="#fff">37.2</text>
<circle cx="240.5" cy="1042.6" r="22.9" fill="#800026" fill-opacity=".915" stroke="#777" stroke-opacity=".4" stroke-width="1.2"/><text x="240.5" y="1048.6499999999999" fill="#fff">39.6</text>
<circle cx="365" cy="1000.8" r="22.9" fill="#a92da8" fill-opacity=".915" stroke="#777" stroke-opacity=".4" stroke-width="1.2"/><text x="365" y="1006.8499999999999" fill="#fff">42.6</text>
<circle cx="449.7" cy="1011.7" r="22.9" fill="#a92da8" fill-opacity=".915" stroke="#777" stroke-opacity=".4" stroke-width="1.2"/><text x="449.7" y="1017.75" fill="#fff">44.4</text>
<circle cx="329.5" cy="1053.5" r="22.9" fill="#a92da8" fill-opacity=".915" stroke="#777" stroke-opacity=".4" stroke-width="1.2"/><text x="329.5" y="1059.55" fill="#fff">41.7</text>
<circle cx="368.4" cy="1057.6" r="22.9" fill="#a92da8" fill-opacity=".915" stroke="#777" stroke-opacity=".4" stroke-width="1.2"/><text x="368.4" y="1063.6499999999999" fill="#fff">43.2</text>
<circle cx="501.2" cy="1087" r="22.9" fill="#a92da8" fill-opacity=".915" stroke="#777" stroke-opacity=".4" stroke-width="1.2"/><text x="501.2" y="1093.05" fill="#fff">43.8</text>
<circle cx="368.4" cy="1133.8" r="22.9" fill="#a92da8" fill-opacity=".915" stroke="#777" stroke-opacity=".4" stroke-width="1.2"/><text x="368.4" y="1139.85" fill="#fff">41.3</text>
<circle cx="168" cy="1151.6" r="22.9" fill="#d73027" fill-opacity=".915" stroke="#777" stroke-opacity=".4" stroke-width="1.2"/><text x="168" y="1157.6499999999999" fill="#fff">31.4</text>
<circle cx="260.3" cy="1153.9" r="22.9" fill="#a92da8" fill-opacity=".915" stroke="#777" stroke-opacity=".4" stroke-width="1.2"/><text x="260.3" y="1159.95" fill="#fff">43.1</text>
<circle cx="433.6" cy="1205.1" r="22.9" fill="#a92da8" fill-opacity=".915" stroke="#777" stroke-opacity=".4" stroke-width="1.2"/><text x="433.6" y="1211.1499999999999" fill="#fff">43.4</text>
<circle cx="347.3" cy="1250" r="22.9" fill="#a92da8" fill-opacity=".915" stroke="#777" stroke-opacity=".4" stroke-width="1.2"/><text x="347.3" y="1256.05" fill="#fff">44.2</text>
<circle cx="388.5" cy="1288" r="22.9" fill="#a92da8" fill-opacity=".915" stroke="#777" stroke-opacity=".4" stroke-width="1.2"/><text x="388.5" y="1294.05" fill="#fff">43.8</text>
<circle cx="188" cy="1247.6" r="22.9" fill="#d73027" fill-opacity=".915" stroke="#777" stroke-opacity=".4" stroke-width="1.2"/><text x="188" y="1253.6499999999999" fill="#fff">32.4</text>
<circle cx="191.4" cy="1258.3" r="22.9" fill="#d73027" fill-opacity=".915" stroke="#777" stroke-opacity=".4" stroke-width="1.2"/><text x="191.4" y="1264.35" fill="#fff">33.5</text>
<circle cx="175.6" cy="1317.2" r="22.9" fill="#d73027" fill-opacity=".915" stroke="#777" stroke-opacity=".4" stroke-width="1.2"/><text x="175.6" y="1323.25" fill="#fff">34.4</text>
<circle cx="219.1" cy="1318.9" r="22.9" fill="#d73027" fill-opacity=".915" stroke="#777" stroke-opacity=".4" stroke-width="1.2"/><text x="219.1" y="1324.95" fill="#fff">34.8</text>
<circle cx="219.8" cy="1359.7" r="22.9" fill="#800026" fill-opacity=".915" stroke="#777" stroke-opacity=".4" stroke-width="1.2"/><text x="219.8" y="1365.75" fill="#fff">35.3</text>
<circle cx="230.2" cy="1370.4" r="22.9" fill="#d73027" fill-opacity=".915" stroke="#777" stroke-opacity=".4" stroke-width="1.2"/><text x="230.2" y="1376.45" fill="#fff">30.2</text>
<circle cx="285.4" cy="1375.7" r="22.9" fill="#d73027" fill-opacity=".915" stroke="#777" stroke-opacity=".4" stroke-width="1.2"/><text x="285.4" y="1381.75" fill="#fff">33.9</text>
<circle cx="145.9" cy="1396.5" r="22.9" fill="#d73027" fill-opacity=".915" stroke="#777" stroke-opacity=".4" stroke-width="1.2"/><text x="145.9" y="1402.55" fill="#fff">32.7</text>
<circle cx="378.4" cy="1392.5" r="22.9" fill="#d73027" fill-opacity=".915" stroke="#777" stroke-opacity=".4" stroke-width="1.2"/><text x="378.4" y="1398.55" fill="#fff">33.2</text>
<circle cx="347.3" cy="1395.8" r="22.9" fill="#d73027" fill-opacity=".915" stroke="#777" stroke-opacity=".4" stroke-width="1.2"/><text x="347.3" y="1401.85" fill="#fff">31</text>
<circle cx="417.9" cy="1368" r="22.9" fill="#800026" fill-opacity=".915" stroke="#777" stroke-opacity=".4" stroke-width="1.2"/><text x="417.9" y="1374.05" fill="#fff">36.2</text>
<circle cx="453.7" cy="1341.3" r="22.9" fill="#800026" fill-opacity=".915" stroke="#777" stroke-opacity=".4" stroke-width="1.2"/><text x="453.7" y="1347.35" fill="#fff">36.4</text>
<circle cx="461.4" cy="1350.6" r="22.9" fill="#d73027" fill-opacity=".915" stroke="#777" stroke-opacity=".4" stroke-width="1.2"/><text x="461.4" y="1356.6499999999999" fill="#fff">34.6</text>
</g>
</svg>
</div>
<div id="rightstrip"></div>
<div id="scale"></div>
<div id="date" class="box">2021-08-14</div>
<div id="menu" class="box">
 <div class="row" style="top:-1.3px;border-top-color:transparent"><svg width="60" height="53" viewBox="781 104.5 60 53"><path d="M803.5,133 V115.9 a3.5,3.5 0 0 1 7,0 V133 a6.9,6.9 0 1 1 -7,0Z" fill="none" stroke="#333" stroke-width="2.7"/><circle cx="807" cy="138.9" r="4" fill="#333"/><path d="M807,122 V136" stroke="#999" stroke-width="1.4"/></svg><b>Temperatura</b></div>
 <div class="row sel" style="top:51.9px"><span>Máxima</span></div>
 <div class="row" style="top:105.1px"><span>Mínima</span></div>
 <div class="row" style="top:158.3px"><svg width="60" height="53" viewBox="781 264.1 60 53"><path d="M797.9,301.4 A6.5,6.5 0 1 1 798.0,288.4 A7.7,7.7 0 1 1 813.4,289.0 A6.5,6.5 0 1 1 816.3,301.4" fill="none" stroke="#333" stroke-width="2.9"/><g fill="#333"><path d="M808.5,296.4 c2,2.3 3.7,4 3.7,6 a3.7,3.7 0 0 1 -7.4,0 c0,-2 1.7,-3.7 3.7,-6Z"/><path d="M802.1,292.2 c1.2,1.4 2.2,2.4 2.2,3.6 a2.2,2.2 0 0 1 -4.4,0 c0,-1.2 1,-2.2 2.2,-3.6Z"/><path d="M808.5,288.8 c.9,1 1.6,1.8 1.6,2.7 a1.6,1.6 0 0 1 -3.2,0 c0,-.9 .7,-1.7 1.6,-2.7Z"/></g></svg><b>Precipitação</b></div>
 <div class="row" style="top:211.5px"><svg width="60" height="53" viewBox="781 316.9 60 53"><g fill="none" stroke="#333" stroke-width="2.9" stroke-linecap="round"><path d="M790.9,341.15 H823.35 a3.1,3.1 0 1 0 -2.2,-5.3"/><path d="M790.9,346.5 H814.5 a3.27,3.27 0 1 1 -2.6,5.3"/></g></svg><b>Vento</b></div>
 <div class="row" style="top:264.7px"><span>Máxima</span></div>
 <div class="row" style="top:317.9px"><svg width="60" height="53" viewBox="781 423.7 60 53"><path d="M807.4,434.7 C811,440 819.7,447 819.7,454 A12.28,12.28 0 0 1 795.1,454 C795.1,447 803.8,440 807.4,434.7Z" fill="#333"/><g fill="none" stroke="#fff" stroke-width="2"><circle cx="802.8" cy="448.9" r="2.4"/><circle cx="812.6" cy="457.2" r="2.4"/><path d="M811.8,446.3 L804,460.6"/></g></svg><b>Humidade</b></div>
 <div class="row" style="top:371.1px"><span>Máxima</span></div>
 <div class="row" style="top:424.3px"><span>Mínima</span></div>
 <div class="row" style="top:477.5px"><svg width="60" height="53" viewBox="781 583.3 60 53"><circle cx="807.05" cy="606.9" r="10.6" fill="none" stroke="#333" stroke-width="2.6"/><rect x="804" y="617" width="6.4" height="5.9" fill="#333"/><circle cx="806.5" cy="609.7" r="2.4" fill="#333"/><path d="M806.5,609.7 L810.1,600.1" stroke="#333" stroke-width="1.8" fill="none"/><path d="M807,598.2 v3 M798.6,606.6 h3 M812.5,606.6 h3 M800.7,600.7 l2.2,2.2" stroke="#333" stroke-width="1.2" fill="none"/></svg><b>Pressão atm.</b></div>
</div>
<div id="legend" class="box">
 <div style="left:16.5px;top:8px;font-weight:bold;font-size:22.5px;letter-spacing:-.4px;transform:scaleX(.915)">Legenda</div>
 <div style="left:16.5px;top:44px;letter-spacing:-.05px;transform:scaleX(.95)">Temp. do ar [ºC]</div>
 <i style="left:16px;top:75px;background:#88419d"></i><div style="left:67.5px;top:79px">-10, -5</div>
 <i style="left:67.3px;top:110.3px;background:#8c6bb1"></i><div style="left:118.5px;top:114px">-5, 0</div>
 <i style="left:118.4px;top:145.6px;background:#8c96c6"></i><div style="left:170px;top:149px">0, 5</div>
 <i style="left:169.5px;top:181px;background:#abd9e9"></i><div style="left:16.5px;top:220.5px">5, 10</div>
 <i style="left:16px;top:251.5px;background:#e0f3f8"></i><div style="left:67.5px;top:255.5px">10, 15</div>
 <i style="left:67.3px;top:286.8px;background:#fee08b"></i><div style="left:118.5px;top:291px">15, 20</div>
 <i style="left:118.4px;top:322.2px;background:#fdae61"></i><div style="left:170px;top:326px">20, 25</div>
 <i style="left:169.5px;top:357.5px;background:#f46d43"></i><div style="left:16.5px;top:397px">25, 30</div>
 <i style="left:16px;top:428px;background:#d73027"></i><div style="left:67.5px;top:432px">30, 35</div>
 <i style="left:67.3px;top:463.4px;background:#800026"></i><div style="left:118.5px;top:467.5px">35, 40</div>
 <i style="left:118.4px;top:498.7px;background:#a92da8"></i><div style="left:170px;top:503px">&gt; 40</div>
</div>
<div id="info"><svg width="71" height="60" viewBox="969.5 1428.5 71 60"><circle cx="1004.5" cy="1456.3" r="15.4" fill="#5a8bc8"/><path d="M1001.3,1444.6 h5.2 v4.4 h-5.2z M998.8,1452 h7.7 v11.6 h2.7 v3.6 h-10.4 v-3.6 h2.6 v-8 h-2.6z" fill="#fff"/></svg></div>

<div id="topshadow"></div>
<div id="bottombar"></div>
</body></html>
